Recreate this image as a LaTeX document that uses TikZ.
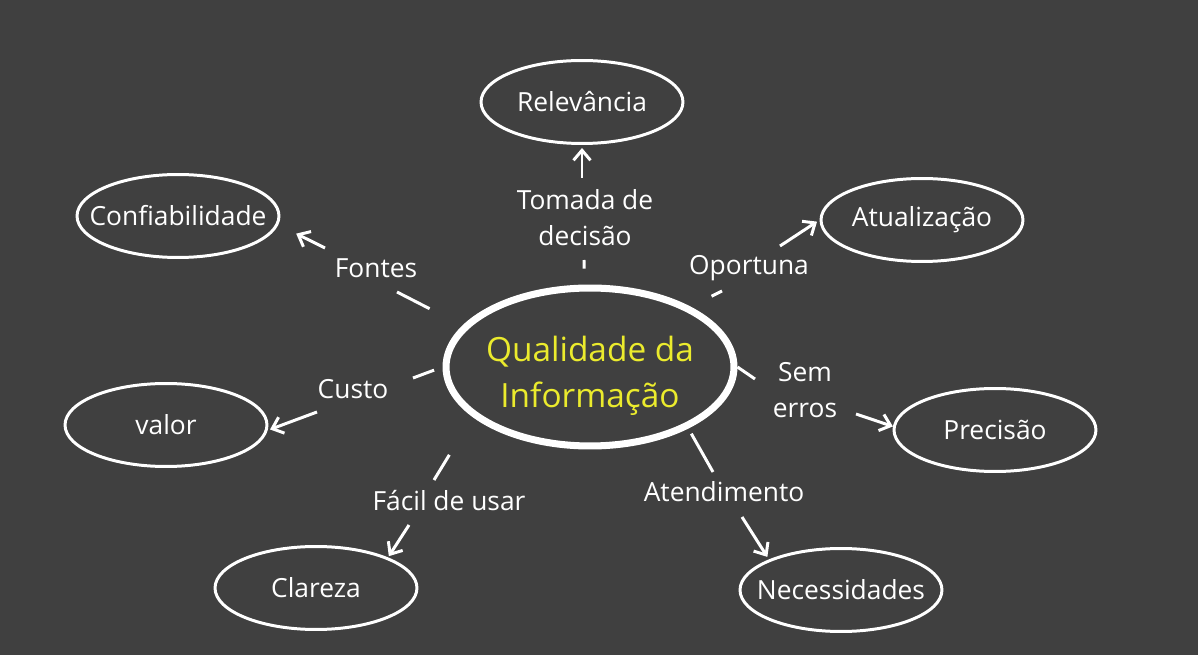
\documentclass[tikz,border=0pt]{standalone}
\usepackage{fontspec}
\setmainfont{Open Sans}
\usetikzlibrary{shapes.geometric, arrows.meta}
\tikzset{every picture/.style={line width=1.7pt}}
\definecolor{board-grey}{RGB}{64,64,64}
\definecolor{chalk-yellow}{RGB}{235,235,45}

\begin{document}
\begin{tikzpicture}
    [x=0.02cm, y=-0.02cm,
    oval/.style = {ellipse, draw=white, text=white, inner xsep=-0.45cm, inner ysep=0pt,
            minimum width=4.04cm, minimum height=1.66cm, font=\fontsize{15}{18}\selectfont},
    word/.style = {text=white, align=center, inner sep=1pt,
            font=\fontsize{15}{20.5}\selectfont},
    stub/.style = {draw=white},
    arr/.style = {draw=white, -{Straight Barb[length=0.2cm, width=0.34cm]}},
    ]

\fill[board-grey] (0, 0) rectangle (1198, 655);

% centre
\node[ellipse, draw=white, line width=4pt, minimum width=5.76cm, minimum height=3.16cm] (q) at (590, 367) {};
\node[text=chalk-yellow, align=center, font=\fontsize{19}{26}\selectfont] (qt) at (590, 376) {Qualidade da\\Informação};

% outer ovals
\node[oval] (rel) at (582, 102) {Relevância};
\node[oval] (conf) at (178, 216) {Confiabilidade};
\node[oval] (atu) at (922, 220) {Atualização};
\node[oval] (val) at (166, 425) {valor};
\node[oval] (pre) at (995, 430) {Precisão};
\node[oval] (cla) at (316, 588) {Clareza};
\node[oval] (nec) at (841, 590) {Necessidades};

% labels on the rays
\node[word] (tom) at (585, 218) {Tomada de\\decisão};
\node[word] (fon) at (376, 268) {Fontes};
\node[word] (opo) at (749, 268) {Oportuna};
\node[word] (sem) at (805, 390) {Sem\\erros};
\node[word] (cus) at (353, 389) {Custo};
\node[word] (fac) at (449, 501) {Fácil de usar};
\node[word] (ate) at (724, 492) {Atendimento};

\coordinate (tom-in) at (584, 260);
\coordinate (fon-in) at (397, 292);
\coordinate (opo-in) at (722, 291);
\coordinate (sem-in) at (755, 379);
\coordinate (cus-in) at (413, 378);
\coordinate (fac-in) at (434, 480);
\coordinate (ate-in) at (713, 472);

\coordinate (tom-out) at (582, 178);
\coordinate (fon-out) at (325, 248);
\coordinate (opo-out) at (780, 246);
\coordinate (sem-out) at (856, 414);
\coordinate (cus-out) at (317, 412);
\coordinate (fac-out) at (409, 525);
\coordinate (ate-out) at (742, 517);

\draw[stub, shorten <=0.32cm] (q.94) -- (tom-in);
\draw[stub, shorten <=0.74cm] (q.162) -- (fon-in);
\draw[stub, shorten <=0.47cm] (q.31) -- (opo-in);
\draw[stub] (q.east) -- (sem-in);
\draw[stub, shorten <=0.18cm] (q.west) -- (cus-in);
\draw[stub, shorten <=0.89cm] (q.203) -- (fac-in);
\draw[stub, shorten <=0.12cm] (q.-32) -- (ate-in);

\draw[arr, shorten >=0.06cm] (tom-out) -- (rel.south);
\draw[arr, shorten >=0.4cm] (fon-out) -- (conf.-5);
\draw[arr, shorten >=0.06cm] (opo-out) -- (atu.180);
\draw[arr] (sem-out) -- (pre.178);
\draw[arr, shorten >=0.05cm] (cus-out) -- (val.-3);
\draw[arr, shorten >=0.03cm] (fac-out) -- (cla.23);
\draw[arr, shorten >=0.06cm] (ate-out) -- (nec.157);

\end{tikzpicture}
\end{document}
